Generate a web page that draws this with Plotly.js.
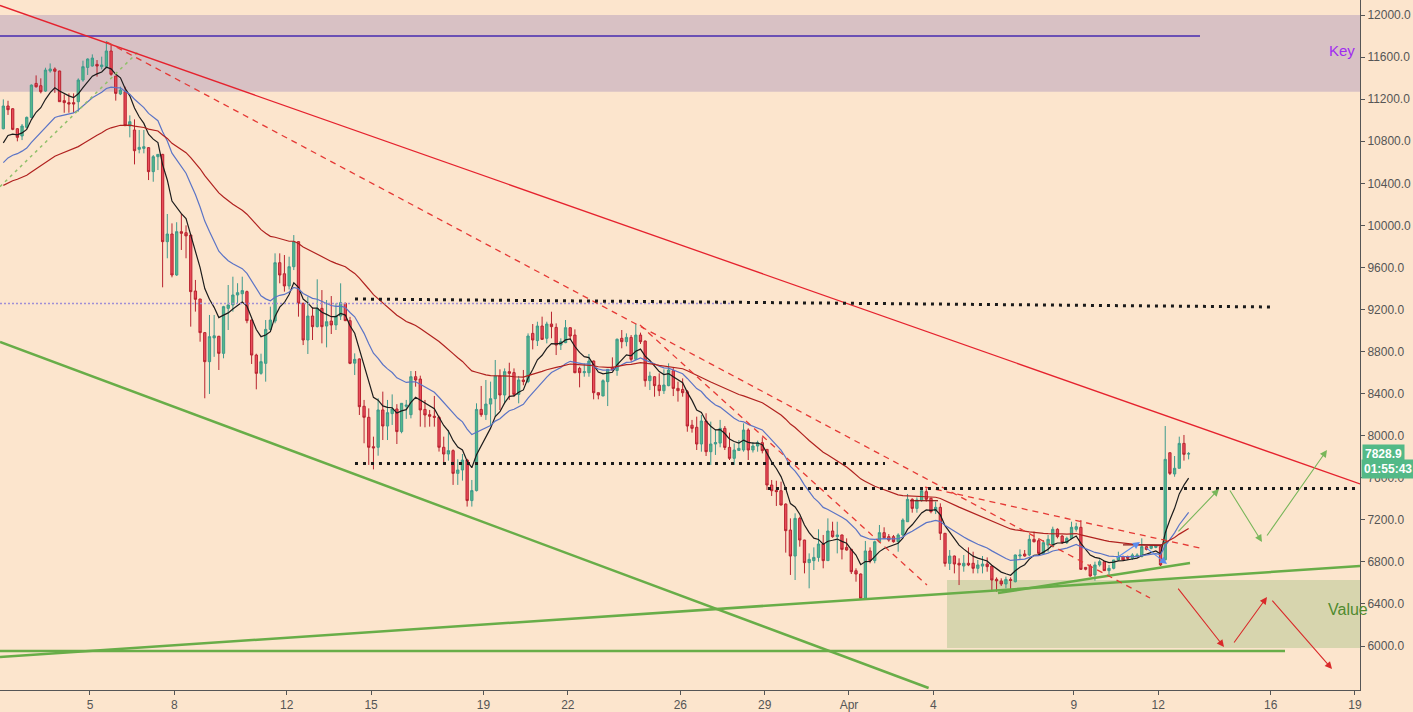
<!DOCTYPE html>
<html>
<head>
<meta charset="utf-8">
<script src="https://cdn.plot.ly/plotly-3.0.1.min.js"></script>
<style>
  html, body { margin: 0; padding: 0; background: #FCE5CD; }
  #chart { width: 1413px; height: 712px; }
</style>
</head>
<body>
<div id="chart"></div>
<script>
// ---- 4h bars, BTC, 1 Mar – 13 Apr 2018 ----
const barStart = Date.UTC(2018, 2, 1, 22, 0);   // first bar open time
const barHours = 4;

const opens = [
10919,11135,11109,10919,10850,10932,11027,11350,11328,11277,
11468,11487,11468,11186,11167,11167,11176,11382,11502,11515,
11531,11509,11509,11658,11420,11249,11271,10945,10907,10723,
10732,10739,10511,10653,10675,9845,9918,9528,9940,9930,
9908,9376,9300,8980,8704,8930,8945,8783,9211,9243,
9338,9350,9370,9100,8767,8593,8688,9011,9090,9645,
9540,9424,9607,9845,9259,8910,9138,9037,9211,9043,
9090,9053,9138,9259,9094,8690,8730,8280,8175,7895,
7890,8245,8092,8210,8254,8039,8280,8200,8561,8539,
8250,8200,8185,8175,7890,7826,7858,7642,7674,7769,
7383,7478,8250,8200,8301,8352,8568,8387,8609,8600,
8393,8530,8515,8973,8904,9043,8926,9062,9030,8862,
8885,9027,8957,8640,8599,8599,8710,8409,8378,8514,
8650,8620,8926,8894,8935,8726,8957,8900,8523,8561,
8480,8428,8476,8618,8450,8440,8418,8100,8080,7921,
8140,7848,7921,7930,8070,7889,7785,7860,7864,8054,
7864,7902,7934,7870,7531,7480,7477,7350,7103,6856,
7214,7008,6793,6812,6843,6970,6812,7094,7040,7056,
6938,6919,6716,6685,6454,6904,6812,6992,7078,7040,
7040,6992,7056,7182,7395,7309,7383,7468,7405,7287,
7319,7072,6786,6856,6787,6761,6787,6787,6739,6760,
6780,6761,6635,6618,6590,6634,6612,6856,6875,6866,
7015,7002,6881,6960,6950,7110,7046,6983,7024,7110,
7129,6748,6761,6676,6771,6802,6717,6739,6818,6850,
6850,6834,6850,6850,6945,6929,6938,6945,6820,7838,
7636,7690,7927,7826];

const highs = [
11198,11185,11115,10925,10964,11035,11340,11426,11398,11499,
11540,11502,11470,11246,11255,11255,11398,11566,11588,11626,
11572,11604,11753,11715,11420,11319,11319,11046,11008,10907,
10907,10745,10669,10675,10680,10108,10019,10030,10114,10000,
9910,9481,9300,8985,9148,9148,8950,9235,9433,9512,
9450,9512,9380,9105,8780,8780,9100,9227,9734,9734,
9718,9702,9908,9850,9265,9322,9221,9487,9385,9290,
9328,9259,9449,9265,9130,8783,8735,8340,8260,7991,
8356,8419,8340,8393,8300,8310,8340,8615,8615,8571,
8340,8245,8378,8190,7991,8055,7870,7776,7826,7780,
7579,8308,8473,8530,8514,8720,8631,8640,8694,8640,
8568,8625,8973,9062,9084,9132,9084,9179,9068,8926,
9100,9030,9011,8656,8688,8777,8715,8409,8536,8631,
8745,8925,9005,8973,8957,9062,8980,8905,8609,8565,
8593,8631,8688,8650,8514,8545,8434,8150,8181,8197,
8213,8134,8061,8150,8092,8029,7927,7959,8118,8070,
7940,7953,7985,7870,7579,7572,7563,7357,7214,7262,
7230,7010,6881,6938,7110,7056,7214,7182,7182,7060,
7024,6925,6739,6690,6999,6938,7002,7151,7129,7065,
7056,7072,7214,7446,7405,7414,7509,7500,7410,7373,
7357,7075,6913,6860,6834,6866,6938,6897,6818,6856,
6843,6765,6653,6644,6660,6653,6870,6919,6913,7056,
7088,7024,7008,7056,7135,7120,7056,7040,7182,7172,
7198,6750,6780,6802,6824,6810,6771,6818,6897,6860,
6860,6882,6882,7024,6950,6960,6960,6951,8092,7838,
7807,7991,8007,7845];

const lows = [
10913,11050,10905,10799,10811,10920,11020,11310,11255,11270,
11452,11260,11176,11071,11071,11071,11081,11366,11430,11510,
11414,11483,11493,11423,11186,11239,10948,10837,10580,10685,
10685,10431,10415,10526,9411,9687,9506,9520,9766,9687,
9037,9180,8894,8356,8397,8750,8625,8736,9005,9180,
9260,9260,9069,8682,8441,8580,8514,9000,9069,9449,
9370,9390,9575,9132,8862,8777,8910,9030,8878,8840,
8967,9005,9100,9090,8680,8577,8197,7928,7722,7680,
7810,7959,7959,8102,7921,8023,8160,8165,8466,8086,
8080,8086,8086,7849,7738,7763,7532,7532,7573,7326,
7326,7470,8180,8150,8099,8180,8244,8308,8340,8370,
8308,8480,8500,8821,8853,8910,8878,8926,8767,8815,
8880,8910,8595,8460,8561,8561,8346,8346,8375,8282,
8620,8570,8831,8850,8704,8720,8872,8466,8434,8371,
8377,8397,8470,8377,8324,8371,8038,8029,7864,7848,
7807,7722,7817,7890,7864,7769,7722,7858,7848,7769,
7840,7848,7832,7484,7427,7332,7338,6888,6676,6628,
6945,6691,6549,6723,6802,6739,6810,7030,6881,6824,
6907,6685,6612,6450,6444,6787,6787,6980,7024,6992,
6983,6897,7040,7180,7268,7268,7373,7373,7262,7255,
7008,6755,6723,6691,6580,6707,6760,6691,6691,6691,
6707,6533,6517,6571,6549,6540,6605,6824,6850,6856,
6985,6866,6878,6897,6938,7024,6970,6970,7015,7088,
6725,6720,6660,6622,6755,6715,6660,6729,6810,6810,
6818,6818,6845,6845,6910,6920,6930,6761,6815,7626,
7610,7690,7763,7775];

const closes = [
11135,11100,10913,10837,10945,11027,11334,11318,11271,11477,
11487,11465,11176,11167,11154,11154,11382,11509,11582,11591,
11515,11525,11658,11436,11255,11287,10948,10986,10710,10742,
10748,10511,10653,10675,9845,9918,9528,9940,9925,9900,
9370,9297,8980,8704,8942,8950,8783,9227,9243,9338,
9360,9380,9094,8767,8593,8704,9011,9100,9645,9528,
9424,9607,9845,9259,8910,9138,9037,9211,9037,9084,
9053,9138,9265,9094,8688,8726,8276,8175,7890,7885,
8245,8092,8219,8254,8039,8308,8290,8561,8530,8245,
8197,8185,8175,7890,7826,7858,7642,7674,7769,7383,
7478,8250,8200,8301,8352,8568,8387,8609,8593,8393,
8530,8515,8948,8910,9043,8916,9062,9037,8862,8894,
9027,8948,8599,8599,8609,8710,8409,8387,8523,8631,
8625,8917,8894,8935,8726,8957,8894,8523,8568,8476,
8428,8482,8625,8450,8428,8409,8092,8070,7921,8140,
7848,7921,7935,8070,7889,7785,7864,7880,8054,7864,
7902,7934,7858,7531,7477,7468,7341,7097,6856,7214,
7008,6793,6824,6843,6970,6812,7094,7040,7056,6919,
6913,6707,6685,6454,6904,6812,6992,7078,7030,7008,
6992,7056,7198,7395,7309,7389,7477,7395,7278,7319,
7072,6786,6856,6780,6771,6787,6771,6739,6771,6780,
6755,6628,6620,6590,6634,6624,6866,6866,6856,7015,
6992,6881,6983,7015,7110,7040,6983,7024,7129,7135,
6729,6730,6666,6771,6802,6717,6739,6818,6850,6818,
6834,6866,6866,6945,6919,6951,6951,6771,7775,7642,
7690,7927,7823,7829];

// moving averages (EMA) : lengths, colours, and their values just before the first bar
const maLengths = [8, 21, 55];
const maSeeds   = [10685, 10542, 10352];
const maColors  = ['#1c1c1c', '#5b74c6', '#b0211f'];

// axis
const xStart = '2018-03-01 19:10';
const xEnd   = '2018-04-19 04:18';
const yMin = 5582, yMax = 12143;
const xTickVals = ['2018-03-05','2018-03-08','2018-03-12','2018-03-15','2018-03-19','2018-03-22',
                   '2018-03-26','2018-03-29','2018-04-01','2018-04-04','2018-04-09','2018-04-12',
                   '2018-04-16','2018-04-19'];
const xTickText = ['5','8','12','15','19','22','26','29','Apr','4','9','12','16','19'];
const yTickVals = [6000,6400,6800,7200,7600,8000,8400,8800,9200,9600,10000,10400,10800,11200,11600,12000];

// zones [x0, x1, yLow, yHigh]
const keyZone   = [xStart, xEnd, 11271, 12000];
const valueZone = ['2018-04-04 11:41', xEnd, 5981, 6628];

// drawn lines: [x0, y0, x1, y1]
const redTrend      = ['2018-03-01 19:10', 12091, xEnd, 7541];
const redDashed     = [
  ['2018-03-05 14:31', 11743, '2018-04-11 17:01', 6457],
  ['2018-03-24 13:35', 9052, '2018-04-03 18:37', 6580],
  ['2018-04-03 16:55', 7512, '2018-04-13 11:42', 6932]
];
const greenDashed   = ['2018-03-01 19:10', 10368, '2018-03-06 18:41', 11667];
const greenLines    = [
  ['2018-03-01 19:10', 8891, '2018-04-03 20:00', 5601],
  ['2018-03-01 19:10', 5896, xEnd, 6761],
  ['2018-03-01 19:10', 5953, '2018-04-16 12:16', 5953],
  ['2018-04-06 07:13', 6504, '2018-04-13 03:10', 6790]
];
const purpleLine    = ['2018-03-01 19:10', 11800, '2018-04-13 11:42', 11800];
const purpleDotted  = ['2018-03-01 19:10', 9257, '2018-03-27 22:41', 9257];
const blackDotted   = [
  ['2018-03-14 10:15', 9300, '2018-04-16 02:03', 9224],
  ['2018-03-14 10:15', 7736, '2018-04-02 06:46', 7736],
  ['2018-03-29 02:52', 7498, xEnd, 7498]
];
const darkRedLevels = [
  ['2018-04-03 04:06', 7382, '2018-04-04 04:00', 7382],
  ['2018-04-10 17:58', 6961, '2018-04-12 04:07', 6961]
];

// projection arrows: [tailX, tailY, headX, headY]
const greenArrows = [
  ['2018-04-12 16:03', 7075, '2018-04-14 03:54', 7493],
  ['2018-04-14 12:27', 7493, '2018-04-15 16:38', 6989],
  ['2018-04-15 20:02', 7037, '2018-04-18 00:07', 7864]
];
const redArrows = [
  ['2018-04-12 16:03', 6561, '2018-04-14 08:11', 5991],
  ['2018-04-14 15:53', 6019, '2018-04-15 20:54', 6466],
  ['2018-04-16 00:19', 6447, '2018-04-18 04:25', 5782]
];
const blueArrows = [
  ['2018-04-10 11:08', 6828, '2018-04-11 08:28', 6989],
  ['2018-04-11 12:45', 6942, '2018-04-12 07:32', 6780]
];

const lastPrice = 7828.9;
const countdown = '01:55:43';
const countdownLevel = 7683;

// ---------------------------------------------------------------
function fmt(ms) { return new Date(ms).toISOString().slice(0, 16).replace('T', ' '); }
const times = opens.map((_, i) => fmt(barStart + i * barHours * 3600e3));

function ema(vals, len, seed) {
  const a = 2 / (len + 1);
  let e = seed;
  return vals.map(v => (e = e + a * (v - e)));
}

const traces = [{
  type: 'candlestick',
  x: times, open: opens, high: highs, low: lows, close: closes,
  increasing: { line: { color: '#3e9a8c', width: 1 }, fillcolor: '#53b987' },
  decreasing: { line: { color: '#b8232f', width: 1 }, fillcolor: '#eb4d5c' },
  whiskerwidth: 0,
  hoverinfo: 'skip',
  showlegend: false
}];
maLengths.forEach((len, k) => {
  traces.push({
    type: 'scatter', mode: 'lines', x: times, y: ema(closes, len, maSeeds[k]),
    line: { color: maColors[k], width: 1.2 }, hoverinfo: 'skip', showlegend: false
  });
});

const shapes = [];
function rect(z, color) {
  shapes.push({ type: 'rect', xref: 'x', yref: 'y', x0: z[0], x1: z[1], y0: z[2], y1: z[3],
    fillcolor: color, line: { width: 0 }, layer: 'below' });
}
function seg(s, color, width, dash) {
  shapes.push({ type: 'line', xref: 'x', yref: 'y', x0: s[0], y0: s[1], x1: s[2], y1: s[3],
    line: { color: color, width: width, dash: dash || 'solid' }, layer: 'above' });
}
rect(keyZone, '#d8c1c4');
rect(valueZone, '#d7d5ae');
seg(purpleLine, '#6a50b5', 2);
seg(purpleDotted, '#9f8fd6', 1.5, '2px,2px');
seg(greenDashed, '#90c06a', 1.5, '3px,4px');
greenLines.forEach(s => seg(s, '#68ad48', 2.5));
seg(redTrend, '#e5222e', 1.3);
redDashed.forEach(s => seg(s, '#e53935', 1.3, '6px,5px'));
blackDotted.forEach(s => seg(s, '#1a1a1a', 3, '3px,5px'));
darkRedLevels.forEach(s => seg(s, '#8b1a1a', 1.2));

const annotations = [];
function arrow(a, color) {
  annotations.push({ xref: 'x', yref: 'y', axref: 'x', ayref: 'y', x: a[2], y: a[3], ax: a[0], ay: a[1],
    text: '', showarrow: true, arrowhead: 2, arrowsize: 1.3, arrowwidth: 1.1, arrowcolor: color });
}
greenArrows.forEach(a => arrow(a, '#78b65a'));
redArrows.forEach(a => arrow(a, '#d92a2a'));
blueArrows.forEach(a => arrow(a, '#5b8ded'));

annotations.push({ xref: 'paper', yref: 'y', x: 0.998, y: 11667, xanchor: 'right', yanchor: 'middle',
  text: 'Key', showarrow: false, font: { family: 'Liberation Sans, Arial, sans-serif', size: 15, color: '#a02cf0' } });
annotations.push({ xref: 'x', yref: 'y', x: '2018-04-17 23:00', y: 6343, xanchor: 'left', yanchor: 'middle',
  text: 'Value', showarrow: false, font: { family: 'Liberation Sans, Arial, sans-serif', size: 16, color: '#4f8a2e' } });
annotations.push({ xref: 'paper', yref: 'y', x: 1, xshift: 2, y: lastPrice, xanchor: 'left', yanchor: 'middle',
  text: '<b>' + lastPrice.toFixed(1) + '</b>', showarrow: false, bgcolor: '#53b987', borderpad: 2,
  font: { family: 'Liberation Sans, Arial, sans-serif', size: 12, color: '#ffffff' } });
annotations.push({ xref: 'paper', yref: 'y', x: 1, xshift: 1, y: countdownLevel, xanchor: 'left', yanchor: 'middle',
  text: '<b>' + countdown + '</b>', showarrow: false, bgcolor: '#53b987', borderpad: 2,
  font: { family: 'Liberation Sans, Arial, sans-serif', size: 12, color: '#ffffff' } });

const layout = {
  width: 1413, height: 712,
  margin: { l: 0, r: 53, t: 0, b: 22, pad: 0 },
  paper_bgcolor: '#FCE5CD', plot_bgcolor: '#FCE5CD',
  showlegend: false, hovermode: false,
  font: { family: 'Liberation Sans, Arial, sans-serif', size: 12, color: '#555555' },
  xaxis: {
    type: 'date', range: [xStart, xEnd], rangeslider: { visible: false },
    tickmode: 'array', tickvals: xTickVals, ticktext: xTickText,
    showgrid: false, zeroline: false, showline: true, linecolor: '#555555', linewidth: 1,
    ticks: 'outside', ticklen: 4, tickcolor: '#555555',
    tickfont: { size: 12, color: '#555555' }
  },
  yaxis: {
    side: 'right', range: [yMin, yMax], tickmode: 'array', tickvals: yTickVals,
    tickformat: '.1f', showgrid: false, zeroline: false, showline: true, linecolor: '#555555',
    ticks: 'outside', ticklen: 4, tickcolor: '#555555', tickfont: { size: 12, color: '#555555' }
  },
  shapes: shapes,
  annotations: annotations
};

Plotly.newPlot('chart', traces, layout, { displayModeBar: false, staticPlot: true });
</script>
</body>
</html>
